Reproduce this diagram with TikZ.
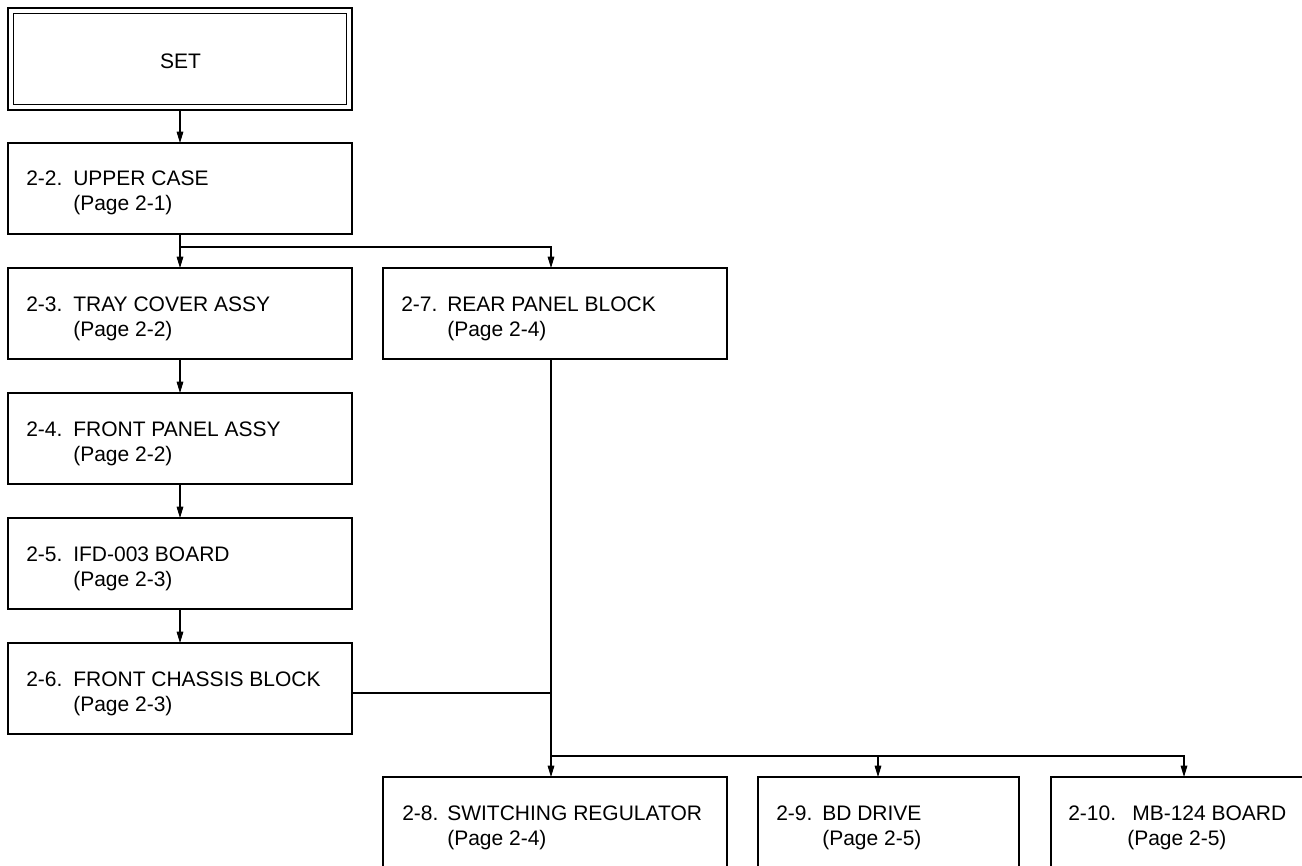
\documentclass[tikz,border=0pt]{standalone}
\usepackage{fontspec}
\setmainfont{Liberation Sans}
\usetikzlibrary{arrows.meta,calc}
\newcommand\btext[7]{%
  \node[txt] (#1n) at ($(#1.north west)+(#5,43)$) {#2};
  \node[txt] (#1m) at ($(#1.north west)+(#6,43)$) {#3};
  \node[txt] (#1p) at ($(#1.north west)+(#7,68)$) {#4};
}
\begin{document}
\begin{tikzpicture}[x=0.75pt,y=-0.75pt,
  box/.style={draw, line width=0.95pt, anchor=north west, inner sep=0pt, outer sep=0pt, minimum width=258pt, minimum height=68.25pt},
  txt/.style={anchor=base west, inner sep=0pt, font=\fontsize{15.75}{18.75}\selectfont},
  conn/.style={line width=0.8pt},
  arr/.style={conn, -{Triangle[length=8.5pt,width=5pt]}}]
\useasboundingbox (0,0) rectangle (1302,866);
\clip (0,0) rectangle (1302,866);
% boxes
\node[box, minimum height=76.5pt] (set) at (8,8) {};
\draw[line width=0.95pt] ($(set.north west)+(5.6,5.6)$) rectangle ($(set.south east)+(-5.6,-5.6)$);
\node[txt, anchor=base] (settxt) at ($(set.north west)+(172.5,61)$) {SET};
\node[box] (b22) at (8,143) {};
\node[box] (b23) at (8,268) {};
\node[box] (b24) at (8,393) {};
\node[box] (b25) at (8,518) {};
\node[box] (b26) at (8,643) {};
\node[box] (b27) at (383,268) {};
\node[box, minimum height=77.25pt] (b28) at (383,777) {};
\node[box, minimum width=195.75pt, minimum height=77.25pt] (b29) at (758,777) {};
\node[box, minimum width=201.75pt, minimum height=77.25pt] (b210) at (1051,777) {};
% texts
\btext{b22}{2-2.}{UPPER CASE}{(Page 2-1)}{18}{65}{65}
\btext{b23}{2-3.}{TRAY COVER ASSY}{(Page 2-2)}{18}{65}{65}
\btext{b24}{2-4.}{FRONT PANEL ASSY}{(Page 2-2)}{18}{65}{65}
\btext{b25}{2-5.}{IFD-003 BOARD}{(Page 2-3)}{18}{65}{65}
\btext{b26}{2-6.}{FRONT CHASSIS BLOCK}{(Page 2-3)}{18}{65}{65}
\btext{b27}{2-7.}{REAR PANEL BLOCK}{(Page 2-4)}{18}{64}{64}
\btext{b28}{2-8.}{SWITCHING REGULATOR}{(Page 2-4)}{19}{64}{64}
\btext{b29}{2-9.}{BD DRIVE}{(Page 2-5)}{18}{64}{64}
\btext{b210}{2-10.}{MB-124 BOARD}{(Page 2-5)}{17}{81}{76}
% connectors
\draw[arr] (set.south) -- (b22.north);
\coordinate (j1) at ($(b22.south)+(0,13)$);
\draw[arr] (b22.south) -- (b23.north);
\draw[arr] (j1) -| ($(b27.north west)+(168,0)$);
\draw[arr] (b23.south) -- (b24.north);
\draw[arr] (b24.south) -- (b25.north);
\draw[arr] (b25.south) -- (b26.north);
\coordinate (vx) at ($(b27.south west)+(168,0)$);
\draw[arr] (vx) -- ($(b28.north west)+(168,0)$);
\coordinate (c6) at ($(b26.north east)+(0,50)$);
\draw[conn] (c6) -- (c6 -| vx);
\coordinate (j2) at ($(b28.north west)+(168,-21)$);
\draw[arr] (j2) -| ($(b29.north west)+(120,0)$);
\draw[arr] (j2) -| ($(b210.north west)+(133,0)$);
\end{tikzpicture}
\end{document}
